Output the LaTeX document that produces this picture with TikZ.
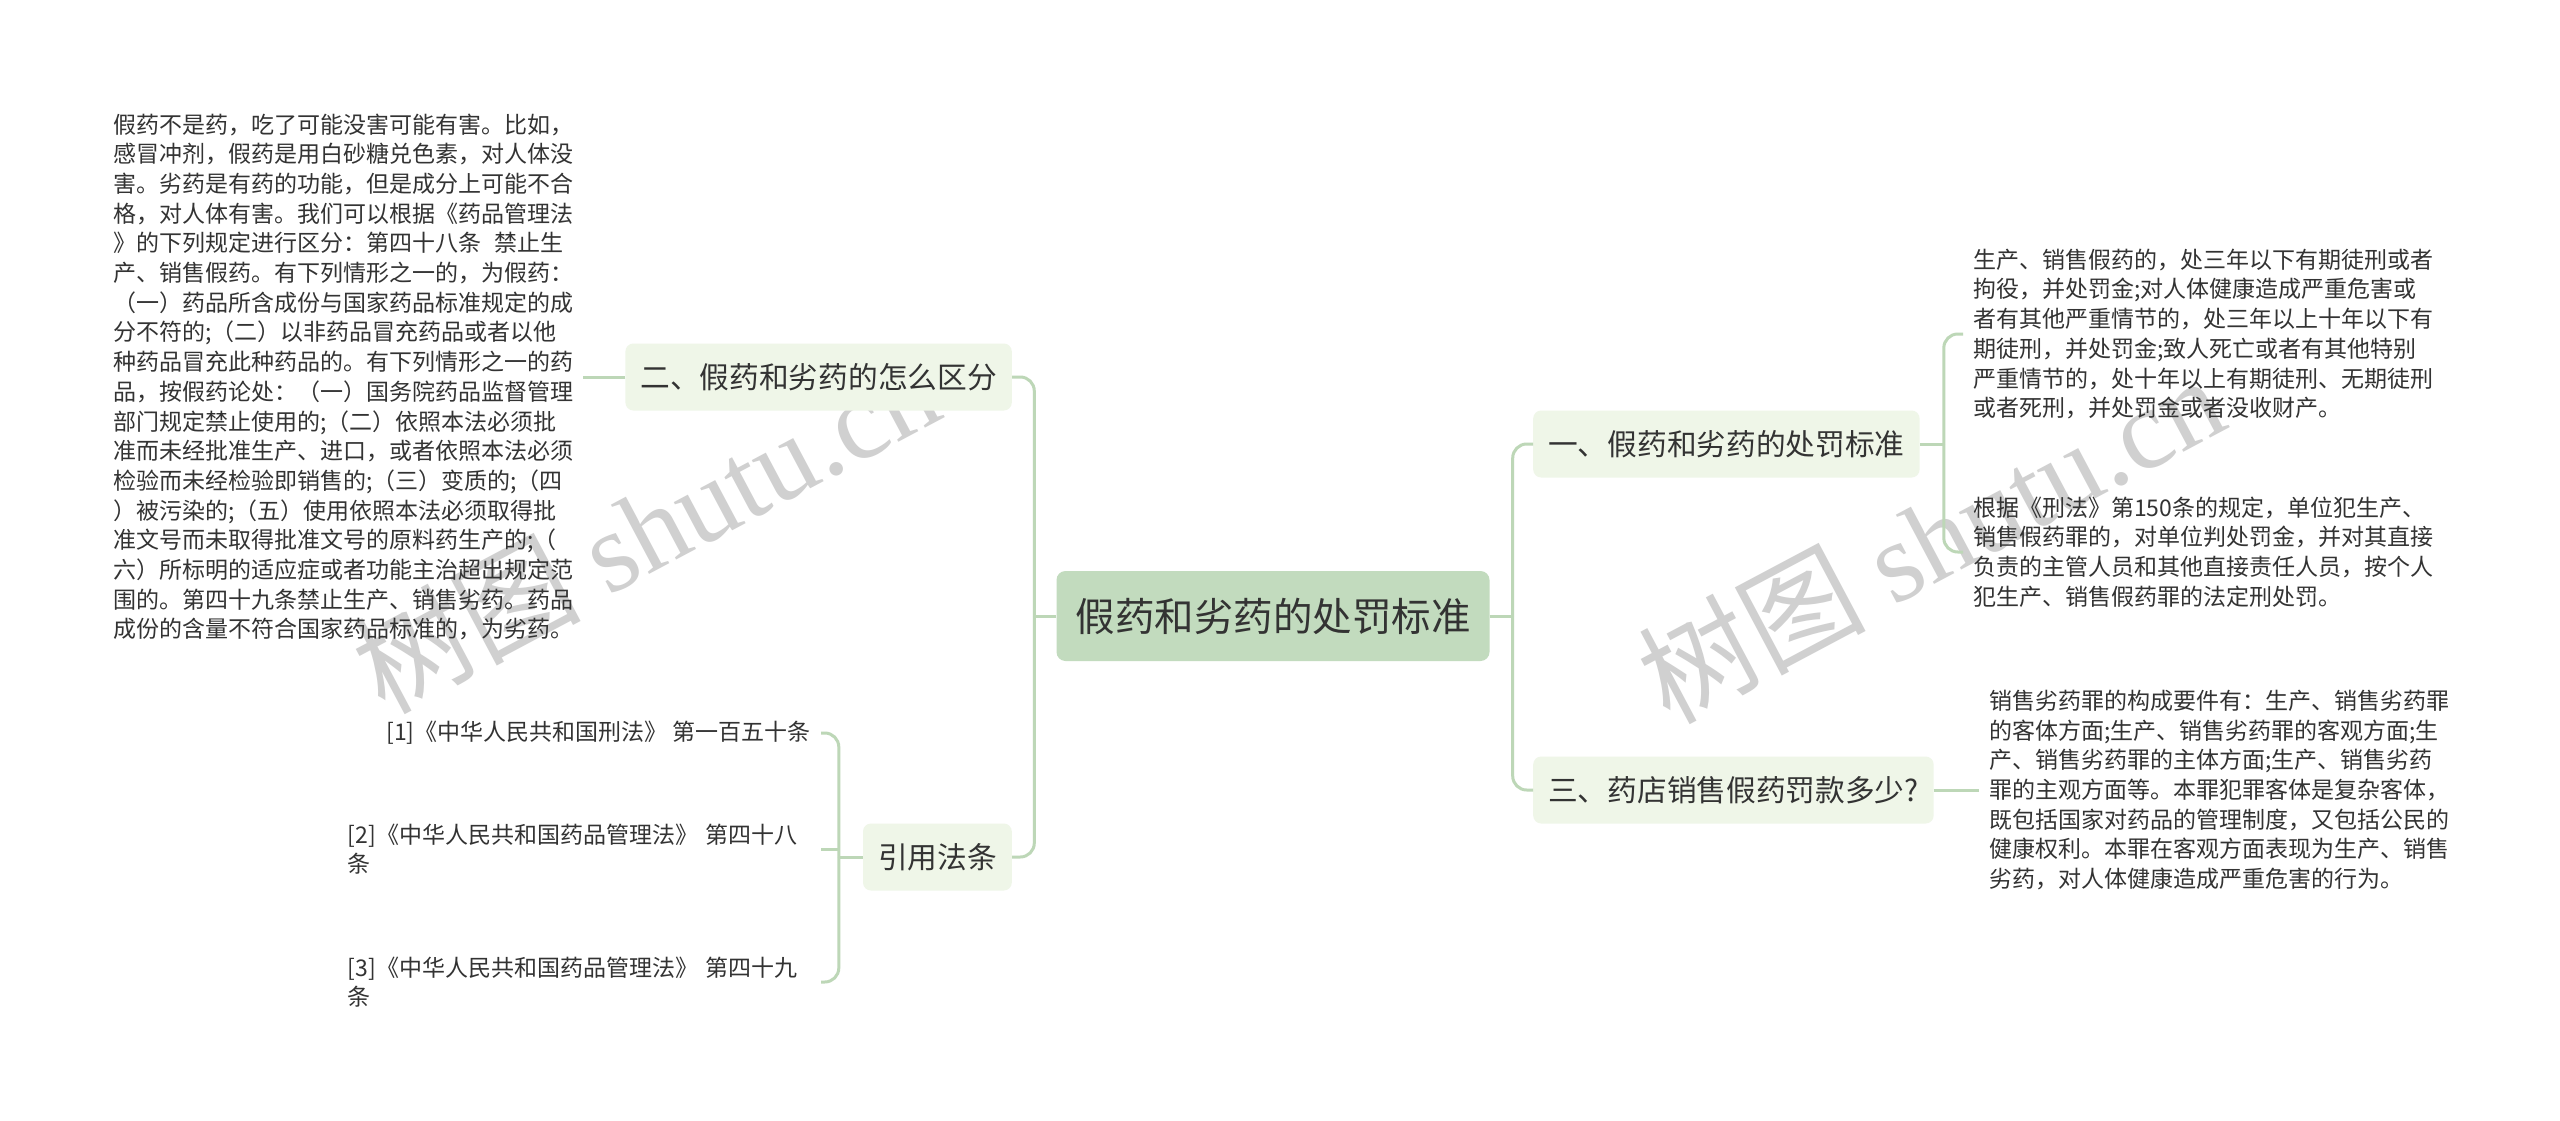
\documentclass[tikz,border=0pt]{standalone}
\usepackage{fontspec}
\setmainfont{Noto Sans CJK SC}
\newfontfamily\wmlatin{Liberation Serif}
\usepackage{xcolor}
\usetikzlibrary{positioning}
\definecolor{rootfill}{RGB}{194,219,190}
\definecolor{topicfill}{RGB}{239,246,232}
\definecolor{branch}{RGB}{189,215,183}
\definecolor{ink}{RGB}{51,51,51}
\definecolor{wmgray}{RGB}{208,208,208}

\begin{document}
\begin{tikzpicture}[x=1pt, y=-1pt]
        \tikzstyle{root} = [rectangle, fill=rootfill, rounded corners=9pt, text=ink, minimum width=433pt, minimum height=90pt, font=\fontsize{39.5}{44}\selectfont]
        \tikzstyle{topic} = [rectangle, fill=topicfill, rounded corners=8pt, text=ink, inner xsep=15pt, minimum height=67pt, font=\fontsize{29.7}{34}\selectfont]
        \tikzstyle{note} = [text=ink, align=left, inner xsep=10pt, inner ysep=0pt, font=\fontsize{23}{29.7}\selectfont]
        \tikzstyle{line} = [draw=branch, line width=3pt]
        \tikzstyle{elbow} = [line, rounded corners=14pt]
        \tikzstyle{watermark} = [text=wmgray, rotate=28, font=\fontsize{114}{114}\selectfont]

        \fill[white] (0,0) rectangle (2560,1121);
        \useasboundingbox (0,0) rectangle (2560,1121);

        \node[watermark] (wmleft) at (645,528) {树图 {\wmlatin shutu.cn}};
        \node[watermark] (wmright) at (1930,538) {树图 {\wmlatin shutu.cn}};

        \node [root] (root) at (1273,616) {假药和劣药的处罚标准};
        \node [topic, anchor=east] (diff) at (1012,377) {二、假药和劣药的怎么区分};
        \node [topic, anchor=east] (cite) at (1012,857) {引用法条};
        \node [topic, anchor=west] (penalty) at (1533,444) {一、假药和劣药的处罚标准};
        \node [topic, anchor=west] (fine) at (1533,790) {三、药店销售假药罚款多少?};

        \node [note, left=42pt of diff] (diffnote) {假药不是药，吃了可能没害可能有害。比如，\\
            感冒冲剂，假药是用白砂糖兑色素，对人体没\\
            害。劣药是有药的功能，但是成分上可能不合\\
            格，对人体有害。我们可以根据《药品管理法\\
            》的下列规定进行区分：第四十八条\hspace{0.6em}禁止生\\
            产、销售假药。有下列情形之一的，为假药：\\
            （一）药品所含成份与国家药品标准规定的成\\
            分不符的;（二）以非药品冒充药品或者以他\\
            种药品冒充此种药品的。有下列情形之一的药\\
            品，按假药论处：（一）国务院药品监督管理\\
            部门规定禁止使用的;（二）依照本法必须批\\
            准而未经批准生产、进口，或者依照本法必须\\
            检验而未经检验即销售的;（三）变质的;（四\\
            ）被污染的;（五）使用依照本法必须取得批\\
            准文号而未取得批准文号的原料药生产的;（\\
            六）所标明的适应症或者功能主治超出规定范\\
            围的。第四十九条禁止生产、销售劣药。药品\\
            成份的含量不符合国家药品标准的，为劣药。};
        \node [note, anchor=west] (penfake) at (1963,334) {生产、销售假药的，处三年以下有期徒刑或者\\
            拘役，并处罚金;对人体健康造成严重危害或\\
            者有其他严重情节的，处三年以上十年以下有\\
            期徒刑，并处罚金;致人死亡或者有其他特别\\
            严重情节的，处十年以上有期徒刑、无期徒刑\\
            或者死刑，并处罚金或者没收财产。};
        \node [note, anchor=west] (penunit) at (1963,552) {根据《刑法》第150条的规定，单位犯生产、\\
            销售假药罪的，对单位判处罚金，并对其直接\\
            负责的主管人员和其他直接责任人员，按个人\\
            犯生产、销售假药罪的法定刑处罚。};
        \node [note, right=45pt of fine] (finenote) {销售劣药罪的构成要件有：生产、销售劣药罪\\
            的客体方面;生产、销售劣药罪的客观方面;生\\
            产、销售劣药罪的主体方面;生产、销售劣药\\
            罪的主观方面等。本罪犯罪客体是复杂客体，\\
            既包括国家对药品的管理制度，又包括公民的\\
            健康权利。本罪在客观方面表现为生产、销售\\
            劣药，对人体健康造成严重危害的行为。};
        \node [note, anchor=east] (law1) at (821,733) {[1]《中华人民共和国刑法》 第一百五十条};
        \node [note, text width=463pt, anchor=east] (law2) at (821,849) {[2]《中华人民共和国药品管理法》 第四十八\\条};
        \node [note, text width=463pt, anchor=east] (law3) at (821,982) {[3]《中华人民共和国药品管理法》 第四十九\\条};

        \path [line] (root.west) -- ++(-22pt,0) coordinate (lsplit);
        \path [elbow] (lsplit) |- (diff.east);
        \path [elbow] (lsplit) |- (cite.east);
        \path [line] (root.east) -- ++(23pt,0) coordinate (rsplit);
        \path [elbow] (rsplit) |- (penalty.west);
        \path [elbow] (rsplit) |- (fine.west);
        \path [line] (diff.west) -- (diffnote.east);
        \path [line] (penalty.east) -- ++(24pt,0) coordinate (psplit);
        \path [elbow] (psplit) |- (penfake.west);
        \path [elbow] (psplit) |- (penunit.west);
        \path [line] (fine.east) -- (finenote.west);
        % citations hang off one vertical trunk left of the box
        \path [line] (cite.west) -- ++(-24pt,0) coordinate (csplit);
        \path [elbow] (csplit) |- (law1.east);
        \path [elbow] (csplit) |- (law3.east);
        \path [line] (law2.east) -- (law2.east -| csplit);
    \end{tikzpicture}
\end{document}
